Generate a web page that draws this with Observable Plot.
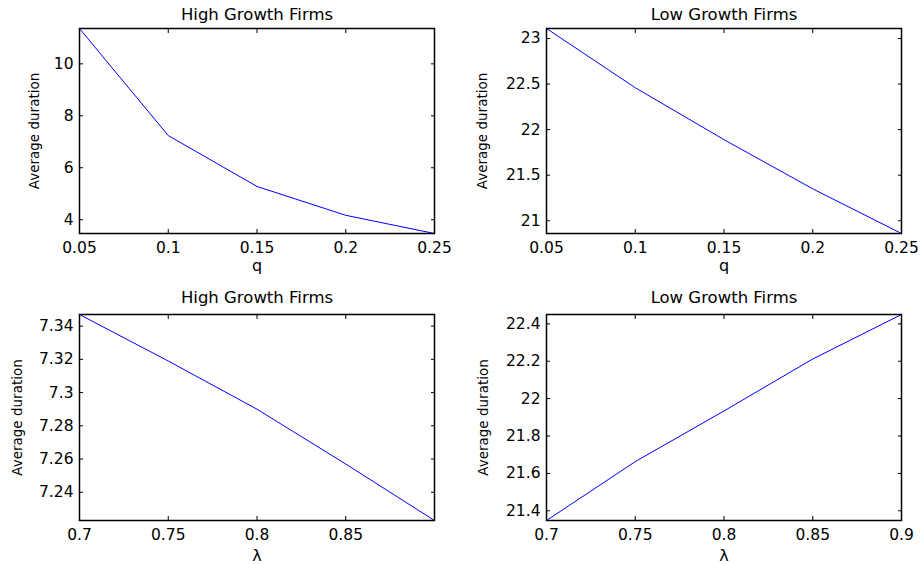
<!DOCTYPE html>
<html><head><meta charset="utf-8">
<script src="https://cdn.jsdelivr.net/npm/d3@7"></script>
<script src="https://cdn.jsdelivr.net/npm/@observablehq/plot@0.6"></script>
<style>
body{margin:0;background:#fff;}
#grid{display:grid;grid-template-columns:460px 460px;grid-template-rows:282px 282px;width:920px;height:564px;}
#grid svg{display:block}
</style></head><body><div id="grid"></div>
<script>
const qValues = [0.05, 0.1, 0.15, 0.2, 0.25];
const lambdaValues = [0.7, 0.75, 0.8, 0.85, 0.9];
const highGrowthByQ = [11.36, 7.24, 5.28, 4.17, 3.47];
const lowGrowthByQ = [23.11, 22.46, 21.89, 21.35, 20.86];
const highGrowthByLambda = [7.347, 7.319, 7.290, 7.257, 7.223];
const lowGrowthByLambda = [21.348, 21.663, 21.934, 22.212, 22.450];
const panelTitles = ["High Growth Firms", "Low Growth Firms", "High Growth Firms", "Low Growth Firms"];
const xLabels = ["q", "q", "λ", "λ"];
const yLabel = "Average duration";
const qTicks = [0.05, 0.1, 0.15, 0.2, 0.25];
const lambdaTicksHigh = [0.7, 0.75, 0.8, 0.85];
const lambdaTicksLow = [0.7, 0.75, 0.8, 0.85, 0.9];
const yTicksTL = [4, 6, 8, 10];
const yTicksTR = [21, 21.5, 22, 22.5, 23];
const yTicksBL = [7.24, 7.26, 7.28, 7.3, 7.32, 7.34];
const yTicksBR = [21.4, 21.6, 21.8, 22, 22.2, 22.4];

const fmt = d3.format("~g");
const FONT = "'DejaVu Sans', sans-serif";

function panel({xs, ys, xTicks, yTicks, title, xLabel, m, yLabelOffset, xLabelOffset, titleDy}) {
  const data = xs.map((v, i) => ({x: v, y: ys[i]}));
  return Plot.plot({
    width: 460, height: 282,
    marginLeft: m[0], marginRight: m[1], marginTop: m[2], marginBottom: m[3],
    style: {fontFamily: FONT, fontSize: "15px", color: "#000", background: "#fff", overflow: "visible"},
    x: {domain: d3.extent(xs)},
    y: {domain: d3.extent(ys)},
    marks: [
      Plot.line(data, {x: "x", y: "y", stroke: "#0000ff", strokeWidth: 1}),
      Plot.axisX({anchor: "bottom", ticks: xTicks, tickSize: -4, tickPadding: 12, tickFormat: fmt, fontSize: 15.5, label: null}),
      Plot.axisX({anchor: "bottom", ticks: [], label: xLabel, labelAnchor: "center", labelOffset: xLabelOffset, labelArrow: "none", fontSize: 16}),
      Plot.axisX({anchor: "top", ticks: xTicks, tickSize: -4, tickFormat: () => "", label: null}),
      Plot.axisY({anchor: "left", ticks: yTicks, tickSize: -4, tickPadding: 10, tickFormat: fmt, fontSize: 15.5, label: null}),
      Plot.axisY({anchor: "left", ticks: [], label: yLabel, labelAnchor: "center", labelOffset: yLabelOffset, labelArrow: "none", fontSize: 13.5}),
      Plot.axisY({anchor: "right", ticks: yTicks, tickSize: -4, tickFormat: () => "", label: null}),
      Plot.frame({stroke: "#000", strokeWidth: 1.5}),
      Plot.text([title], {text: d => d, frameAnchor: "top", lineAnchor: "bottom", dy: titleDy, fontSize: 16.5})
    ]
  });
}

const grid = document.getElementById("grid");
grid.append(panel({xs: qValues, ys: highGrowthByQ, xTicks: qTicks, yTicks: yTicksTL, title: panelTitles[0], xLabel: xLabels[0], m: [79, 26, 28, 49], yLabelOffset: 50, xLabelOffset: 37, titleDy: -9}));
grid.append(panel({xs: qValues, ys: lowGrowthByQ, xTicks: qTicks, yTicks: yTicksTR, title: panelTitles[1], xLabel: xLabels[1], m: [86, 19, 28, 49], yLabelOffset: 69, xLabelOffset: 37, titleDy: -9}));
grid.append(panel({xs: lambdaValues, ys: highGrowthByLambda, xTicks: lambdaTicksHigh, yTicks: yTicksBL, title: panelTitles[2], xLabel: xLabels[2], m: [79, 26, 32, 44], yLabelOffset: 67, xLabelOffset: 40, titleDy: -11.5}));
grid.append(panel({xs: lambdaValues, ys: lowGrowthByLambda, xTicks: lambdaTicksLow, yTicks: yTicksBR, title: panelTitles[3], xLabel: xLabels[3], m: [86, 19, 32, 44], yLabelOffset: 68, xLabelOffset: 40, titleDy: -11.5}));
</script>
</body></html>
